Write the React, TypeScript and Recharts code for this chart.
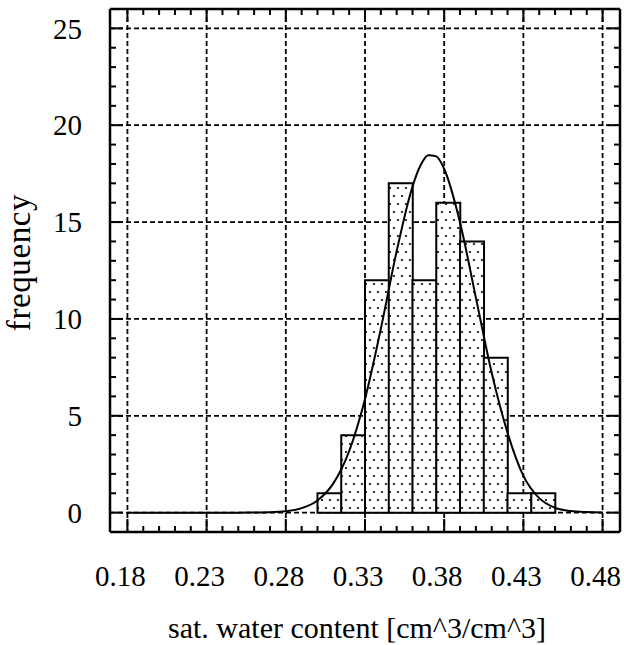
import {
  ComposedChart,
  Bar,
  Line,
  XAxis,
  YAxis,
  CartesianGrid,
  Label,
} from "recharts";

// histogram bins (bin centres, width 0.015)
const BIN_MID = [0.3075, 0.3225, 0.3375, 0.3525, 0.3675, 0.3825, 0.3975, 0.4125, 0.4275, 0.4425];
const COUNTS = [1, 4, 12, 17, 12, 16, 14, 8, 1, 1];

// fitted normal curve
const CURVE_X = [
  0.18, 0.2, 0.22, 0.24, 0.25, 0.26, 0.27, 0.28, 0.29, 0.3, 0.31, 0.32, 0.33, 0.34, 0.35,
  0.36, 0.365, 0.37, 0.375, 0.38, 0.39, 0.4, 0.41, 0.42, 0.43, 0.44, 0.45, 0.46, 0.47, 0.48,
];
const CURVE_Y = [
  0, 0, 0, 0, 0, 0.01, 0.02, 0.07, 0.23, 0.63, 1.51, 3.18, 5.87, 9.49, 13.5,
  16.84, 17.92, 18.45, 18.39, 17.74, 14.98, 11.1, 7.22, 4.12, 1.9, 0.75, 0.25, 0.08, 0.03, 0.01,
];

const X_MAJOR = [0.18, 0.23, 0.28, 0.33, 0.38, 0.43, 0.48];
const X_TICKS = [
  0.18, 0.19, 0.2, 0.21, 0.22, 0.23, 0.24, 0.25, 0.26, 0.27, 0.28, 0.29, 0.3, 0.31, 0.32, 0.33,
  0.34, 0.35, 0.36, 0.37, 0.38, 0.39, 0.4, 0.41, 0.42, 0.43, 0.44, 0.45, 0.46, 0.47, 0.48,
];
const Y_MAJOR = [0, 5, 10, 15, 20, 25];
const Y_TICKS = [
  0, 1, 2, 3, 4, 5, 6, 7, 8, 9, 10, 11, 12, 13, 14, 15, 16, 17, 18, 19, 20, 21, 22, 23, 24, 25,
];

const X_DOMAIN = [0.169, 0.491];
const Y_DOMAIN = [-1, 26];

const FONT = "'Liberation Serif', 'Times New Roman', serif";
const MAJOR_LEN = 13;
const MINOR_LEN = 6;

const bins = BIN_MID.map((x, i) => ({ x, count: COUNTS[i] }));
const curve = CURVE_X.map((x, i) => ({ x, y: CURVE_Y[i] }));

function XTick(props: any) {
  const { x, y, payload, side } = props;
  const major = X_MAJOR.includes(payload.value);
  const len = major ? MAJOR_LEN : MINOR_LEN;
  const dir = side === "top" ? 1 : -1;
  return (
    <g>
      <line x1={x} x2={x} y1={y} y2={y + dir * len} stroke="#000" strokeWidth={2} />
      {side === "bottom" && major && (
        <text x={x - 7} y={y + 54} textAnchor="middle" fontFamily={FONT} fontSize={29} fill="#000">
          {payload.value.toFixed(2)}
        </text>
      )}
    </g>
  );
}

function YTick(props: any) {
  const { x, y, payload, side } = props;
  const major = Y_MAJOR.includes(payload.value);
  const len = major ? MAJOR_LEN : MINOR_LEN;
  const dir = side === "left" ? 1 : -1;
  return (
    <g>
      <line x1={x} x2={x + dir * len} y1={y} y2={y} stroke="#000" strokeWidth={2} />
      {side === "left" && major && (
        <text x={x - 28} y={y} dy="0.35em" textAnchor="end" fontFamily={FONT} fontSize={29} fill="#000">
          {payload.value}
        </text>
      )}
    </g>
  );
}

function YTitle(props: any) {
  const { viewBox } = props;
  const cy = viewBox.y + viewBox.height / 2 - 8;
  return (
    <text
      transform={`translate(${viewBox.x + 30}, ${cy}) rotate(-90)`}
      textAnchor="middle"
      fontFamily={FONT}
      fontSize={33}
      letterSpacing={0.6}
      fill="#000"
    >
      frequency
    </text>
  );
}

const axisLine = { stroke: "#000", strokeWidth: 2.5 };

export default function App() {
  return (
    <div style={{ position: "absolute", left: 0, top: 0, background: "#fff" }}>
      <ComposedChart
        width={624}
        height={645}
        data={bins}
        margin={{ top: 8, right: 3, bottom: 0, left: 0 }}
        barCategoryGap={0}
        barGap={0}
      >
        <defs>
          <pattern id="dots" width="8" height="16" patternUnits="userSpaceOnUse">
            <rect width="8" height="16" fill="#fff" />
            <circle cx="2" cy="4" r="1.1" fill="#000" />
            <circle cx="6" cy="12" r="1.1" fill="#000" />
          </pattern>
        </defs>
        <CartesianGrid
          xAxisId="x"
          yAxisId="y"
          verticalValues={X_MAJOR}
          horizontalValues={Y_MAJOR}
          stroke="#000"
          strokeWidth={1.8}
          strokeDasharray="5 3"
        />
        <XAxis
          xAxisId="x"
          dataKey="x"
          type="number"
          domain={X_DOMAIN}
          allowDataOverflow
          ticks={X_TICKS}
          interval={0}
          height={113}
          tickSize={0}
          tickMargin={0}
          tickLine={false}
          axisLine={axisLine}
          tick={<XTick side="bottom" />}
        >
          <Label
            value="sat. water content [cm^3/cm^3]"
            position="insideBottom"
            offset={7}
            dx={-8}
            style={{ fontFamily: FONT, fontSize: 30, fill: "#000" }}
          />
        </XAxis>
        <XAxis
          xAxisId="t"
          orientation="top"
          dataKey="x"
          type="number"
          domain={X_DOMAIN}
          allowDataOverflow
          ticks={X_TICKS}
          interval={0}
          height={1}
          tickSize={0}
          tickMargin={0}
          tickLine={false}
          axisLine={axisLine}
          tick={<XTick side="top" />}
        />
        <YAxis
          yAxisId="y"
          type="number"
          domain={Y_DOMAIN}
          allowDataOverflow
          ticks={Y_TICKS}
          interval={0}
          width={110}
          tickSize={0}
          tickMargin={0}
          tickLine={false}
          axisLine={axisLine}
          tick={<YTick side="left" />}
          label={<YTitle />}
        />
        <YAxis
          yAxisId="r"
          orientation="right"
          type="number"
          domain={Y_DOMAIN}
          allowDataOverflow
          ticks={Y_TICKS}
          interval={0}
          width={1}
          tickSize={0}
          tickMargin={0}
          tickLine={false}
          axisLine={axisLine}
          tick={<YTick side="right" />}
        />
        <Bar
          xAxisId="x"
          yAxisId="y"
          dataKey="count"
          fill="url(#dots)"
          stroke="#000"
          strokeWidth={2}
          isAnimationActive={false}
        />
        <Line
          xAxisId="t"
          yAxisId="r"
          data={curve}
          dataKey="y"
          type="monotone"
          stroke="#000"
          strokeWidth={2}
          dot={false}
          activeDot={false}
          isAnimationActive={false}
        />
      </ComposedChart>
    </div>
  );
}
